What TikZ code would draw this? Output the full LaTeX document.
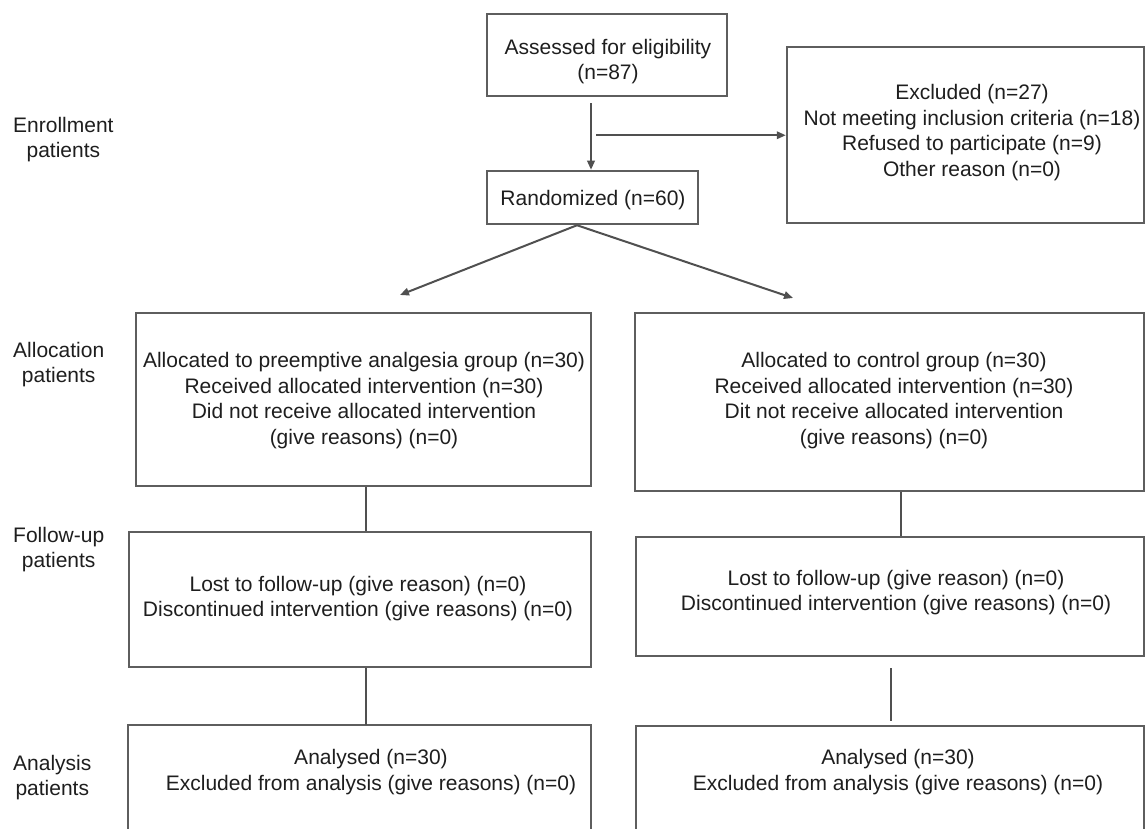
\documentclass[tikz,border=0pt]{standalone}
\usepackage{fontspec}
\setmainfont{Liberation Sans}
\usetikzlibrary{arrows.meta,calc}
\definecolor{boxgray}{HTML}{5E5E5E}
\definecolor{linegray}{HTML}{505050}
\definecolor{txtcol}{HTML}{1E1E1E}
\begin{document}
\begin{tikzpicture}[x=1pt,y=-1pt,
  boxnode/.style={draw=boxgray,line width=2.5pt,rectangle,inner sep=0pt},
  opennode/.style={draw=none,rectangle,inner sep=0pt},
  openline/.style={draw=boxgray,line width=2.5pt},
  txt/.style={text=txtcol,align=center,inner sep=0pt,font=\fontsize{21}{25.5}\selectfont},
  sidelabel/.style={text=txtcol,align=center,inner sep=0pt,anchor=west,font=\fontsize{21}{25}\selectfont},
  conn/.style={draw=linegray,line width=2pt},
  arr/.style={conn,-{Triangle[length=9pt,width=7.5pt]}}]
\useasboundingbox[fill=white] (0,0) rectangle (1146,829);

% boxes
\node[boxnode,minimum width=240pt,minimum height=82pt] (assess) at (607,55) {};
\node[boxnode,minimum width=357pt,minimum height=176pt] (excl) at (965.5,135) {};
\node[boxnode,minimum width=211pt,minimum height=53pt] (rand) at (592.5,197.5) {};
\node[boxnode,minimum width=455pt,minimum height=173pt] (allocL) at (363.5,399.5) {};
\node[boxnode,minimum width=509pt,minimum height=178pt] (allocR) at (889.5,402) {};
\node[boxnode,minimum width=462pt,minimum height=135pt] (fuL) at (360,599.5) {};
\node[boxnode,minimum width=508pt,minimum height=119pt] (fuR) at (890,596.5) {};
\node[opennode,minimum width=463pt,minimum height=140pt] (anL) at (359.5,795) {};
\node[opennode,minimum width=508pt,minimum height=140pt] (anR) at (890,796) {};
\draw[openline] ($(anL.north west)+(0,104)$) -- (anL.north west) -- (anL.north east) -- ($(anL.north east)+(0,104)$);
\draw[openline] ($(anR.north west)+(0,104)$) -- (anR.north west) -- (anR.north east) -- ($(anR.north east)+(0,104)$);

% texts
\node[txt] (assessT) at (608,61.5) {Assessed for eligibility\\(n=87)};
\node[txt] (exclT) at (972,132.5) {Excluded (n=27)\\Not meeting inclusion criteria (n=18)\\Refused to participate (n=9)\\Other reason (n=0)};
\node[txt] (randT) at (593,200) {Randomized (n=60)};
\node[txt] (allocLT) at (364,400.5) {Allocated to preemptive analgesia group (n=30)\\Received allocated intervention (n=30)\\Did not receive allocated intervention\\(give reasons) (n=0)};
\node[txt] (allocRT) at (894,400.5) {Allocated to control group (n=30)\\Received allocated intervention (n=30)\\Dit not receive allocated intervention\\(give reasons) (n=0)};
\node[txt] (fuLT) at (358,598.5) {Lost to follow-up (give reason) (n=0)\\Discontinued intervention (give reasons) (n=0)};
\node[txt] (fuRT) at (896,592.5) {Lost to follow-up (give reason) (n=0)\\Discontinued intervention (give reasons) (n=0)};
\node[txt] (anLT) at (371,772) {Analysed (n=30)\\Excluded from analysis (give reasons) (n=0)};
\node[txt] (anRT) at (898,772) {Analysed (n=30)\\Excluded from analysis (give reasons) (n=0)};

% side labels
\node[sidelabel] (lab1) at (13,139.5) {Enrollment\\patients};
\node[sidelabel] (lab2) at (13,364.5) {Allocation\\patients};
\node[sidelabel] (lab3) at (13,549.5) {Follow-up\\patients};
\node[sidelabel] (lab4) at (13,777.5) {Analysis\\patients};

% connectors
\draw[arr] ($(assess.south)+(-16,6)$) -- ($(rand.north)+(-1.5,0)$);
\coordinate (br) at ($(assess.south)+(-11,38)$);
\draw[arr] (br) -- (br -| excl.west);
\coordinate (sp) at ($(rand.south)+(-15.5,0)$);
\coordinate (tipL) at (400,295);
\coordinate (tipR) at (793,298);
\draw[arr] (sp) -- (tipL);
\draw[arr] (sp) -- (tipR);
\draw[conn] ($(allocL.south)+(2.5,0)$) -- ($(fuL.north)+(6,0)$);
\draw[conn] ($(allocR.south)+(11.5,0)$) -- ($(fuR.north)+(11,0)$);
\draw[conn] ($(fuL.south)+(6,0)$) -- ($(anL.north)+(6.5,0)$);
\draw[conn] ($(fuR.south)+(1,11)$) -- ($(anR.north)+(1,-5)$);
\end{tikzpicture}
\end{document}
